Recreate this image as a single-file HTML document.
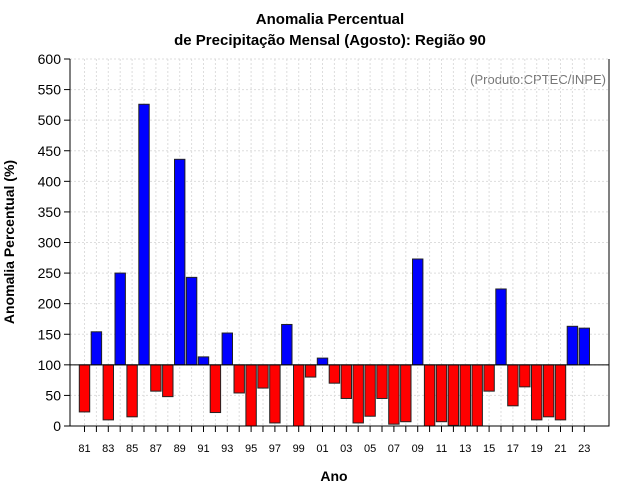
<!DOCTYPE html>
<html><head><meta charset="utf-8"><style>
body{margin:0;background:#fff;}
svg{display:block;font-family:"Liberation Sans",sans-serif;}
</style></head><body>
<svg id="c" width="640" height="500">
<text x="330" y="24" text-anchor="middle" font-size="15" font-weight="bold">Anomalia Percentual</text>
<text x="330" y="45" text-anchor="middle" font-size="15" font-weight="bold">de Precipitação Mensal (Agosto): Região 90</text>
<text x="606" y="84" text-anchor="end" font-size="13" fill="#777">(Produto:CPTEC/INPE)</text>
<text transform="translate(14,242) rotate(-90)" text-anchor="middle" font-size="14" font-weight="bold">Anomalia Percentual (%)</text>
<text x="334" y="481" text-anchor="middle" font-size="14" font-weight="bold">Ano</text>
<g id="grid"></g><g id="bars"></g><g id="axes"></g>
</svg>
<script>
const years=[81,82,83,84,85,86,87,88,89,90,91,92,93,94,95,96,97,98,99,0,1,2,3,4,5,6,7,8,9,10,11,12,13,14,15,16,17,18,19,20,21,22,23];
const values=[23,154,10,250,15,526,57,48,436,243,113,22,152,54,0,62,5,166,0,80,111,70,45,5,16,45,3,7,273,0,7,1,0,0,57,224,33,64,10,15,10,163,160];
const yTicks=[0,50,100,150,200,250,300,350,400,450,500,550,600];
const baseline=100;
const NS="http://www.w3.org/2000/svg";
const L=70,R=609,T=59,B=426;
const y=v=>B-(v/600)*(B-T);
const x=i=>84.5+i*11.9;
function mk(t,a,p){const e=document.createElementNS(NS,t);for(const k in a)e.setAttribute(k,a[k]);p.appendChild(e);return e;}
const g=document.getElementById('grid'),b=document.getElementById('bars'),ax=document.getElementById('axes');
yTicks.forEach(v=>{
 const l=mk('line',{x1:L,x2:R,y1:y(v),y2:y(v),stroke:'#ddd','stroke-dasharray':'2,2'},g);
 
 
 const tk=mk('line',{x1:L-6,x2:L,y1:y(v),y2:y(v),stroke:'#000'},ax);
 
 
 const t=mk('text',{x:L-9,y:y(v)+5,'text-anchor':'end','font-size':'14'},ax);
 t.textContent=v;
 
 
});
years.forEach((yr,i)=>{
 const l=mk('line',{x1:x(i),x2:x(i),y1:T,y2:B,stroke:'#ddd','stroke-dasharray':'2,2'},g);
 
 
 const tk=mk('line',{x1:x(i),x2:x(i),y1:B,y2:B+6,stroke:'#000'},ax);
 
 
 if(i%2===0){
  const t=mk('text',{x:x(i),y:452,'text-anchor':'middle','font-size':'11'},ax);
  t.textContent=String(yr).padStart(2,'0');
  
  
 }
 const v=values[i];
 const top=Math.min(y(v),y(baseline)),h=Math.abs(y(v)-y(baseline));
 const r=mk('rect',{x:x(i)-5.2,y:top,width:10.4,height:Math.max(h,0.5),fill:v>=baseline?'#0000ff':'#ff0000',stroke:'#222','stroke-width':'1'},b);
 
 
});
const bl=mk('line',{x1:L,x2:R,y1:y(baseline),y2:y(baseline),stroke:'#000'},ax);


const fr=mk('path',{d:`M${L},${T}V${B}H${R}V${T}`,fill:'none',stroke:'#000'},ax);


</script>
</body></html>
